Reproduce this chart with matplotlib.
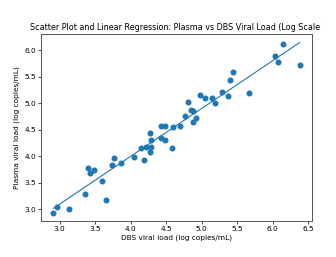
import numpy as np
import matplotlib
matplotlib.use("Agg")
import matplotlib.pyplot as plt
from matplotlib.transforms import Bbox

# DBS vs plasma viral load (log copies/mL)
dbs_log = [2.91, 2.96, 3.13, 3.36, 3.40, 3.42, 3.49, 3.59, 3.65, 3.73,
           3.77, 3.87, 4.05, 4.19, 4.15, 4.21, 4.28, 4.27, 4.28, 4.27,
           4.43, 4.49, 4.43, 4.49, 4.58, 4.60, 4.69, 4.76, 4.80, 4.85,
           4.88, 4.92, 4.88, 4.98, 5.04, 5.15, 5.19, 5.28, 5.37, 5.40,
           5.44, 5.66, 6.03, 6.08, 6.14, 6.38]
plasma_log = [2.94, 3.04, 3.00, 3.29, 3.78, 3.68, 3.74, 3.54, 3.17, 3.84,
              3.97, 3.88, 3.98, 3.93, 4.16, 4.18, 4.18, 4.08, 4.31, 4.44,
              4.58, 4.57, 4.35, 4.31, 4.16, 4.56, 4.57, 4.76, 5.03, 4.87,
              4.86, 4.73, 4.64, 5.15, 5.10, 5.10, 5.01, 5.21, 5.13, 5.44,
              5.59, 5.19, 5.89, 5.78, 6.12, 5.73]

x = np.array(dbs_log)
y = np.array(plasma_log)
slope, intercept = np.polyfit(x, y, 1)
xs = np.sort(x)

fig = plt.figure(figsize=(3.36, 2.57), dpi=100)
ax = fig.add_axes([41/336, 1 - 221/257, 271/336, 187/257])

ax.scatter(x, y, s=11, color="#1f77b4", zorder=3)
ax.plot(xs, slope * xs + intercept, color="#1f77b4", linewidth=0.8)

title = ax.set_title("Scatter Plot and Linear Regression: Plasma vs DBS Viral Load (Log Scale)",
                     fontsize=5.8, pad=3)
# the source picture is cut off just before the closing bracket
title.set_clip_box(Bbox.from_extents(0, 0, 321, 257))
title.set_clip_on(True)

ax.set_xlabel("DBS viral load (log copies/mL)", fontsize=5.3, labelpad=2)
ax.set_ylabel("Plasma viral load (log copies/mL)", fontsize=5.3, labelpad=3)
ax.tick_params(labelsize=5.3, length=2, width=0.5, pad=1.5)
for sp in ax.spines.values():
    sp.set_linewidth(0.7)
    sp.set_color("#555555")

fig.savefig("out.png", dpi=100)
